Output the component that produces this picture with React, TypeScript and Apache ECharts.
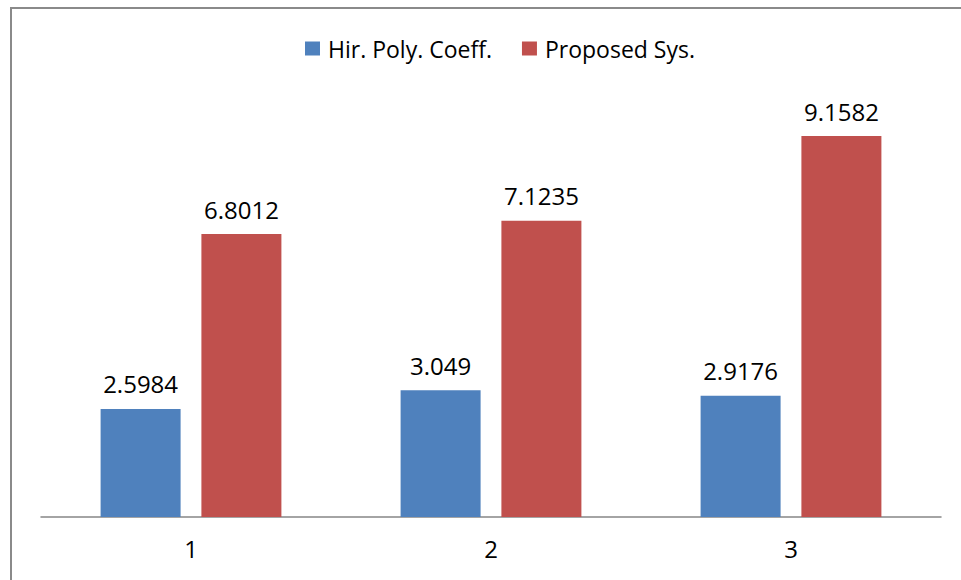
import React, { useEffect, useRef } from "react";
import * as echarts from "echarts";

const categories = ["1", "2", "3"];
const hirPoly = [2.5984, 3.049, 2.9176];
const proposed = [6.8012, 7.1235, 9.1582];
const seriesNames = ["Hir. Poly. Coeff.", "Proposed Sys."];

const FONT = "'Open Sans', 'Noto Sans', sans-serif";

export default function App() {
  const ref = useRef<HTMLDivElement>(null);
  useEffect(() => {
    if (!ref.current) return;
    const chart = echarts.init(ref.current, undefined, { renderer: "svg" });
    const label = {
      show: true,
      position: "top" as const,
      distance: 13,
      color: "#000",
      fontFamily: FONT,
      fontSize: 24,
      formatter: (p: any) => String(p.value),
    };
    chart.setOption({
      animation: false,
      backgroundColor: "#fff",
      textStyle: { fontFamily: FONT },
      graphic: [
        {
          type: "rect",
          shape: { x: 11, y: 8, width: 1000, height: 1000 },
          style: { fill: "none", stroke: "#8a8a8a", lineWidth: 2 },
          silent: true,
        },
      ],
      legend: {
        top: 32,
        left: 300,
        itemWidth: 15,
        itemHeight: 14,
        itemGap: 30,
        icon: "rect",
        textStyle: {
          fontFamily: FONT,
          fontSize: 23,
          color: "#000",
          padding: [0, 0, 0, 3],
        },
        data: seriesNames,
      },
      grid: { left: 41, right: 20, top: 101, bottom: 63, containLabel: false },
      xAxis: {
        type: "category",
        data: categories,
        axisLine: { lineStyle: { color: "#868686", width: 1.5 } },
        axisTick: { show: false },
        axisLabel: { color: "#000", fontSize: 24, fontFamily: FONT, margin: 19 },
      },
      yAxis: {
        type: "value",
        min: 0,
        max: 10,
        interval: 1,
        show: false,
        splitLine: { show: false },
      },
      series: [
        {
          name: seriesNames[0],
          type: "bar",
          data: hirPoly,
          barWidth: 80,
          barGap: "26%",
          itemStyle: { color: "#4F81BD" },
          label,
        },
        {
          name: seriesNames[1],
          type: "bar",
          data: proposed,
          barWidth: 80,
          barGap: "26%",
          itemStyle: { color: "#C0504D" },
          label,
        },
      ],
    });
    return () => chart.dispose();
  }, []);
  return (
    <div
      ref={ref}
      style={{ position: "fixed", left: 0, top: 0, width: 961, height: 580 }}
    />
  );
}
